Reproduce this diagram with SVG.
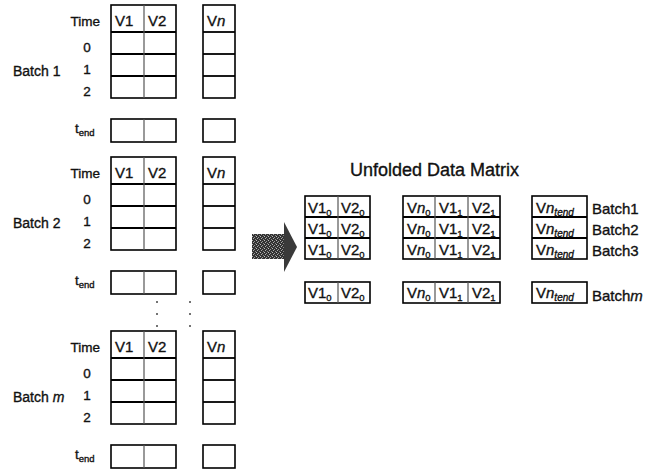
<svg xmlns="http://www.w3.org/2000/svg" width="651" height="474" viewBox="0 0 651 474">
<style>
  text { font-family: "Liberation Sans", Arial, sans-serif; fill: #111; stroke: #111; stroke-width: 0.35; }
  .lbl { font-size: 14px; }
  .time { font-size: 13.5px; }
  .hdr { font-size: 15px; }
  .cell { font-size: 15px; }
  .sub { font-size: 9.5px; }
  .subi { font-size: 10px; font-style: italic; }
  .title { font-size: 18px; }
  .blab { font-size: 15px; }
  .box { fill: #fff; stroke: #000; stroke-width: 1.6; }
  .h { stroke: #000; stroke-width: 1.8; }
  .v { stroke: #555; stroke-width: 1.2; }
  .dot { fill: #444; }
</style>
<defs>
  <pattern id="tex" width="4" height="4" patternUnits="userSpaceOnUse">
    <rect width="4" height="4" fill="#333"/>
    <rect x="0" y="0" width="1" height="1" fill="#bbb"/>
    <rect x="2" y="1" width="1" height="1" fill="#999"/>
    <rect x="1" y="2" width="1" height="1" fill="#aaa"/>
    <rect x="3" y="3" width="1" height="1" fill="#888"/>
  </pattern>
  <g id="batchTables">
    <rect class="box" x="111" y="0" width="65" height="93"/>
    <line class="h" x1="111" y1="27" x2="176" y2="27"/>
    <line class="h" x1="111" y1="49" x2="176" y2="49"/>
    <line class="h" x1="111" y1="71" x2="176" y2="71"/>
    <line class="v" x1="144" y1="0" x2="144" y2="93"/>
    <rect class="box" x="203" y="0" width="32" height="93"/>
    <line class="h" x1="203" y1="27" x2="235" y2="27"/>
    <line class="h" x1="203" y1="49" x2="235" y2="49"/>
    <line class="h" x1="203" y1="71" x2="235" y2="71"/>
    <rect class="box" x="111" y="114" width="65" height="23"/>
    <line class="v" x1="144" y1="114" x2="144" y2="137"/>
    <rect class="box" x="203" y="114" width="32" height="23"/>
    <text class="time" x="100" y="21" text-anchor="end">Time</text>
    <text class="hdr" x="115" y="21">V1</text>
    <text class="hdr" x="148" y="21">V2</text>
    <text class="hdr" x="207" y="21">V<tspan font-style="italic">n</tspan></text>
    <text class="time" x="87" y="47" text-anchor="middle">0</text>
    <text class="time" x="87" y="69" text-anchor="middle">1</text>
    <text class="time" x="87" y="91" text-anchor="middle">2</text>
    <text class="time" x="75" y="128">t<tspan class="sub" dy="3">end</tspan></text>
  </g>
</defs>

<g id="batch1" transform="translate(0,5)">
  <use href="#batchTables"/>
  <text class="lbl" x="13" y="71">Batch 1</text>
</g>
<g id="batch2" transform="translate(0,157)">
  <use href="#batchTables"/>
  <text class="lbl" x="13" y="71">Batch 2</text>
</g>
<g id="batchm" transform="translate(0,331)">
  <use href="#batchTables"/>
  <text class="lbl" x="13" y="71">Batch <tspan font-style="italic">m</tspan></text>
</g>

<g id="ellipsis">
  <circle class="dot" cx="157" cy="302" r="1"/>
  <circle class="dot" cx="157" cy="314" r="1"/>
  <circle class="dot" cx="157" cy="326" r="1"/>
  <circle class="dot" cx="190" cy="302" r="1"/>
  <circle class="dot" cx="190" cy="314" r="1"/>
  <circle class="dot" cx="190" cy="326" r="1"/>
</g>

<g id="connectors">
  <rect x="252" y="234" width="33" height="25" fill="url(#tex)"/>
  <polygon points="284,222 297,247 284,272" fill="#3a3a3a"/>
</g>

<g id="unfolded">
  <text class="title" x="350" y="176">Unfolded Data Matrix</text>

  <g id="colsA">
    <rect class="box" x="305" y="196" width="65" height="63"/>
    <line class="h" x1="305" y1="217" x2="370" y2="217"/>
    <line class="h" x1="305" y1="238" x2="370" y2="238"/>
    <line class="v" x1="338" y1="196" x2="338" y2="259"/>
    <rect class="box" x="305" y="282" width="65" height="21"/>
    <line class="v" x1="338" y1="282" x2="338" y2="303"/>
    <text class="cell" x="308" y="213">V1<tspan class="sub" dy="3">0</tspan></text>
    <text class="cell" x="341" y="213">V2<tspan class="sub" dy="3">0</tspan></text>
    <text class="cell" x="308" y="234">V1<tspan class="sub" dy="3">0</tspan></text>
    <text class="cell" x="341" y="234">V2<tspan class="sub" dy="3">0</tspan></text>
    <text class="cell" x="308" y="255">V1<tspan class="sub" dy="3">0</tspan></text>
    <text class="cell" x="341" y="255">V2<tspan class="sub" dy="3">0</tspan></text>
    <text class="cell" x="308" y="298">V1<tspan class="sub" dy="3">0</tspan></text>
    <text class="cell" x="341" y="298">V2<tspan class="sub" dy="3">0</tspan></text>
  </g>

  <g id="colsB">
    <rect class="box" x="403" y="196" width="97" height="63"/>
    <line class="h" x1="403" y1="217" x2="500" y2="217"/>
    <line class="h" x1="403" y1="238" x2="500" y2="238"/>
    <line class="v" x1="435" y1="196" x2="435" y2="259"/>
    <line class="v" x1="468" y1="196" x2="468" y2="259"/>
    <rect class="box" x="403" y="282" width="97" height="21"/>
    <line class="v" x1="435" y1="282" x2="435" y2="303"/>
    <line class="v" x1="468" y1="282" x2="468" y2="303"/>
    <text class="cell" x="407" y="213">V<tspan font-style="italic">n</tspan><tspan class="sub" dy="3">0</tspan></text>
    <text class="cell" x="439" y="213">V1<tspan class="sub" dy="3">1</tspan></text>
    <text class="cell" x="472" y="213">V2<tspan class="sub" dy="3">1</tspan></text>
    <text class="cell" x="407" y="234">V<tspan font-style="italic">n</tspan><tspan class="sub" dy="3">0</tspan></text>
    <text class="cell" x="439" y="234">V1<tspan class="sub" dy="3">1</tspan></text>
    <text class="cell" x="472" y="234">V2<tspan class="sub" dy="3">1</tspan></text>
    <text class="cell" x="407" y="255">V<tspan font-style="italic">n</tspan><tspan class="sub" dy="3">0</tspan></text>
    <text class="cell" x="439" y="255">V1<tspan class="sub" dy="3">1</tspan></text>
    <text class="cell" x="472" y="255">V2<tspan class="sub" dy="3">1</tspan></text>
    <text class="cell" x="407" y="298">V<tspan font-style="italic">n</tspan><tspan class="sub" dy="3">0</tspan></text>
    <text class="cell" x="439" y="298">V1<tspan class="sub" dy="3">1</tspan></text>
    <text class="cell" x="472" y="298">V2<tspan class="sub" dy="3">1</tspan></text>
  </g>

  <g id="colsC">
    <rect class="box" x="532" y="196" width="55" height="63"/>
    <line class="h" x1="532" y1="217" x2="587" y2="217"/>
    <line class="h" x1="532" y1="238" x2="587" y2="238"/>
    <rect class="box" x="532" y="282" width="55" height="21"/>
    <text class="cell" x="536" y="213">V<tspan font-style="italic">n</tspan><tspan class="subi" dy="3">tend</tspan></text>
    <text class="cell" x="536" y="234">V<tspan font-style="italic">n</tspan><tspan class="subi" dy="3">tend</tspan></text>
    <text class="cell" x="536" y="255">V<tspan font-style="italic">n</tspan><tspan class="subi" dy="3">tend</tspan></text>
    <text class="cell" x="536" y="298">V<tspan font-style="italic">n</tspan><tspan class="subi" dy="3">tend</tspan></text>
  </g>

  <g id="batchLabels">
    <text class="blab" x="592" y="214">Batch1</text>
    <text class="blab" x="592" y="235">Batch2</text>
    <text class="blab" x="592" y="256">Batch3</text>
    <text class="blab" x="592" y="301">Batch<tspan font-style="italic">m</tspan></text>
  </g>
</g>
</svg>
